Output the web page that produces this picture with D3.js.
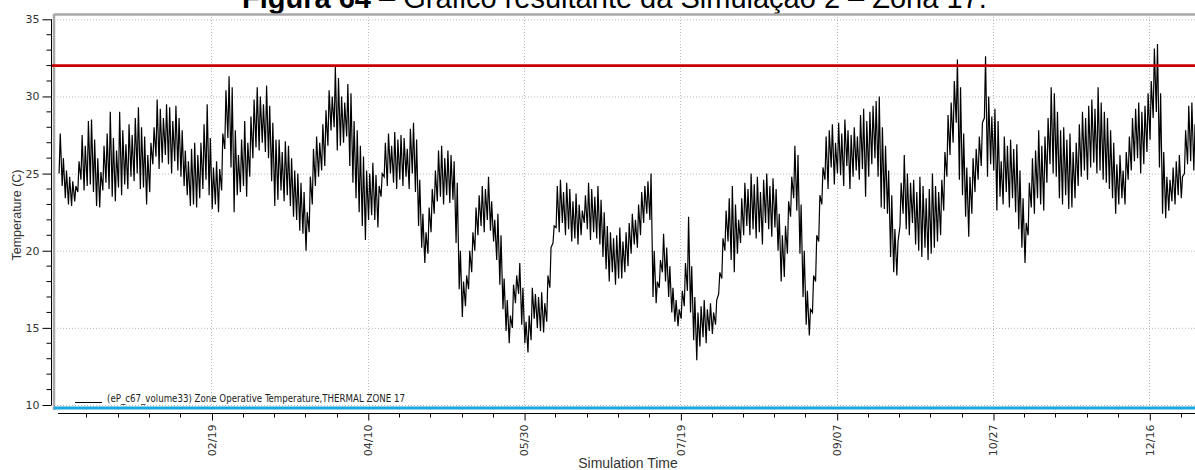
<!DOCTYPE html>
<html>
<head>
<meta charset="utf-8">
<script src="https://cdn.jsdelivr.net/npm/d3@7"></script>
<style>
  body { margin: 0; background: #fff; }
  svg { display: block; font-family: "Liberation Sans", Arial, sans-serif; }
</style>
</head>
<body>
<div id="chart"></div>
<script>
var width  = 1195;
var height = 470;

// daily highs / lows, day 0 = 01/01
var dayHigh = [
  27.6, 26.0, 25.2, 24.8, 24.5, 24.2, 25.8, 27.5, 26.8, 28.4,
  28.5, 27.2, 26.0, 25.1, 26.8, 27.6, 29.0, 27.3, 26.5, 29.0,
  27.8, 26.9, 28.2, 27.5, 28.6, 29.3, 28.0, 27.4, 26.2, 27.0,
  28.0, 29.8, 29.2, 28.6, 29.5, 29.3, 28.4, 29.4, 28.6, 27.8,
  26.5, 25.8, 26.6, 27.0, 26.2, 27.0, 28.2, 29.5, 27.3, 25.4,
  25.8, 25.3, 27.6, 30.4, 31.3, 30.6, 27.8, 26.2, 27.2, 28.4,
  27.0, 28.7, 29.8, 30.6, 30.0, 29.5, 30.7, 29.4, 28.3, 27.2,
  27.2, 26.4, 27.1, 26.8, 26.0, 25.2, 25.0, 24.4, 23.8, 22.5,
  24.8, 26.6, 27.4, 27.0, 28.2, 29.1, 30.4, 30.0, 31.9, 31.2,
  30.0, 29.6, 30.8, 30.2, 28.4, 27.8, 26.8, 26.1, 25.2, 25.0,
  25.7, 24.9, 24.2, 25.0, 27.0, 27.6, 26.8, 27.7, 27.2, 27.5,
  27.3, 26.6, 27.9, 28.3, 27.2, 24.6, 22.4, 21.2, 22.8, 24.0,
  25.2, 26.5, 26.8, 26.0, 26.5, 26.2, 25.8, 24.4, 20.0, 18.0,
  18.4, 20.0, 21.2, 22.8, 23.6, 24.2, 24.0, 24.8, 23.2, 22.0,
  22.4, 21.0, 18.2, 16.8, 15.8, 17.8, 18.4, 19.2, 17.6, 15.4,
  15.8, 17.6, 17.2, 17.0, 17.3, 16.6, 18.4, 20.2, 21.6, 24.2,
  24.6, 23.8, 24.4, 24.0, 23.2, 23.7, 23.0, 22.6, 23.6, 24.4,
  24.0, 23.5, 24.2, 23.3, 22.5, 21.6, 21.2, 20.8, 21.0, 21.5,
  20.6, 21.2, 21.8, 22.4, 22.0, 23.0, 23.8, 24.2, 24.5, 25.0,
  20.0, 18.0, 19.4, 21.1, 20.2, 19.0, 17.6, 16.8, 16.2, 17.4,
  19.2, 22.2, 19.0, 17.0, 16.0, 16.4, 16.8, 16.2, 16.6, 16.0,
  16.8, 18.6, 20.8, 22.6, 23.4, 24.2, 23.0, 22.0, 23.4, 24.4,
  24.0, 25.0, 24.3, 24.8, 23.8, 24.6, 25.0, 24.2, 24.7, 24.0,
  22.4, 21.0, 21.6, 23.2, 24.8, 26.8, 26.2, 23.0, 20.0, 17.4,
  16.2, 18.4, 21.0, 23.6, 25.4, 27.4, 27.8, 28.2, 27.0, 28.3,
  27.6, 28.5, 27.8, 27.5, 28.0, 27.4, 28.8, 29.2, 28.4, 29.0,
  29.4, 29.7, 30.0, 28.0, 26.8, 25.2, 23.6, 21.4, 20.6, 24.4,
  26.2, 25.0, 24.4, 24.6, 23.8, 24.8, 24.2, 23.4, 24.0, 25.0,
  24.2, 23.8, 24.6, 26.4, 28.8, 29.6, 31.0, 32.4, 30.6, 27.6,
  25.4, 24.8, 26.0, 26.6, 27.4, 28.3, 32.6, 30.0, 28.7, 29.2,
  28.4, 25.8, 27.4, 26.8, 27.2, 26.6, 26.9, 25.2, 23.4, 21.8,
  24.4, 26.0, 26.5, 27.8, 26.8, 27.4, 28.6, 30.6, 30.2, 29.0,
  27.8, 28.0, 27.2, 27.6, 26.4, 27.0, 28.2, 29.0, 28.6, 29.4,
  29.8, 29.2, 30.6, 29.6, 29.0, 28.6, 27.8, 27.0, 25.6, 26.2,
  25.2, 26.4, 27.4, 28.6, 29.2, 29.6, 29.0, 29.4, 30.2, 31.0,
  33.1, 33.4, 30.2, 26.4, 24.8, 24.6, 25.4, 25.8, 26.2, 24.8,
  27.8, 29.4, 29.6, 28.2, 29.0
];

var dayLow = [
  25.0, 24.2, 23.4, 23.0, 22.9, 23.2, 23.8, 24.6, 23.9, 24.2,
  24.3, 23.8, 22.9, 22.8, 23.9, 24.4, 24.0, 23.5, 23.2, 24.1,
  23.6, 24.3, 24.0, 24.8, 24.5, 25.0, 24.0, 24.1, 23.0, 23.8,
  25.6, 26.1, 25.3, 25.7, 26.2, 25.6, 25.0, 25.8, 25.2, 24.8,
  24.2, 23.6, 22.9, 23.0, 22.8, 23.4, 24.0, 24.6, 23.6, 22.7,
  23.0, 22.5, 23.9, 26.6, 27.3, 25.4, 22.5, 23.6, 23.8, 24.2,
  23.5, 24.8, 26.0, 26.7, 26.5, 27.0, 26.4, 26.0, 24.5, 22.9,
  23.3, 23.9, 23.2, 23.6, 22.9, 22.2, 22.0, 21.3, 21.1, 20.0,
  21.2, 23.0, 24.2, 24.8, 25.2, 25.5, 26.8, 27.8, 28.0, 26.5,
  26.8, 27.0, 27.4, 25.5, 24.4, 23.4, 22.5, 21.6, 20.7, 22.0,
  22.3, 22.0, 21.5, 23.5, 24.8, 24.2, 25.0, 24.4, 24.0, 24.6,
  24.2, 24.8, 24.0, 25.0, 23.8, 21.6, 20.2, 19.2, 19.8, 21.2,
  22.4, 23.2, 23.5, 23.0, 23.6, 23.1, 23.3, 20.5, 17.5, 15.7,
  16.4, 17.5, 18.6, 20.0, 21.0, 21.6, 21.2, 22.0, 21.3, 20.6,
  19.4, 17.8, 16.2, 14.8, 14.0, 15.0, 16.6, 17.2, 15.2, 14.0,
  13.4, 14.2, 15.6, 15.0, 14.8, 14.7, 15.4, 17.6, 20.5, 21.5,
  21.2, 21.8, 21.0, 21.4, 20.6, 20.8, 20.4, 21.0, 21.8, 21.4,
  20.7, 21.2, 20.8, 20.4, 19.6, 18.8, 18.0, 18.6, 17.8, 18.2,
  18.2, 18.6, 19.0, 19.8, 20.4, 20.2, 21.0, 21.8, 22.4, 22.0,
  17.0, 16.6, 17.6, 18.6, 18.0, 17.0, 16.0, 15.4, 15.1, 15.6,
  16.4, 17.4, 16.0, 14.2, 12.9, 13.8, 14.4, 14.0, 14.8, 14.6,
  15.2, 17.2, 18.2, 20.0, 20.6, 19.4, 18.6, 19.8, 20.5, 21.0,
  21.6, 21.0, 21.4, 20.8, 21.2, 20.4, 21.8, 21.4, 20.9, 21.5,
  20.0, 18.0, 18.3, 19.8, 22.2, 23.4, 22.6, 19.8, 17.0, 15.2,
  14.5, 16.0, 18.0, 20.6, 23.0, 24.6, 24.0, 25.4, 24.3, 25.0,
  24.9, 24.2, 25.5, 24.0, 24.8, 25.2, 24.6, 25.3, 23.5, 24.8,
  25.6, 26.0, 24.8, 22.8, 22.7, 22.4, 19.6, 18.6, 18.4, 21.6,
  22.4, 21.4, 21.0, 21.8, 20.4, 20.0, 19.6, 20.2, 19.4, 19.8,
  20.2, 20.6, 21.0, 22.6, 24.8, 26.2, 27.0, 28.3, 24.6, 23.6,
  22.2, 20.9, 22.4, 23.8, 24.6, 25.5, 28.6, 24.8, 25.6, 25.2,
  22.6, 23.5, 23.0, 23.8, 22.8, 23.4, 22.5, 21.4, 20.2, 19.2,
  21.0, 22.8, 22.4, 23.4, 23.0, 22.6, 24.4, 25.6, 25.0, 24.8,
  23.4, 23.0, 23.6, 22.7, 22.8, 23.4, 24.2, 24.8, 25.2, 24.6,
  25.4, 25.7, 25.0, 25.2, 24.6, 24.4, 24.0, 23.4, 22.4, 23.0,
  23.4, 23.0, 24.6, 25.2, 25.8, 26.0, 25.0, 25.6, 26.4, 27.2,
  28.6, 29.0, 25.4, 22.4, 22.1, 22.6, 23.2, 23.0, 23.6, 23.4,
  25.0, 25.6, 25.8, 25.2, 26.0
];

var yTicks     = [10, 15, 20, 25, 30, 35];
var xTickDates = ["02/19", "04/10", "05/30", "07/19", "09/07", "10/27", "12/16"];
var upperLimit = 32;
var lowerLimit = 9.8;
var legendText = "(eP_c67_volume33) Zone Operative Temperature,THERMAL ZONE 17";

var plot = {left: 54, right: 1202, top: 14, bottom: 413};

var x = d3.scaleTime()
    .domain([new Date(2001, 0, 1), new Date(2002, 0, 1)])
    .range([58.3, 58.3 + 365 * 3.126]);

var y = d3.scaleLinear()
    .domain([10, 35])
    .range([405, 19.3]);

var parseTick = d3.timeParse("%m/%d/%Y");
var majorDates = xTickDates.map(function(s) { return parseTick(s + "/2001"); });
var minorDates = d3.range(-1, 37).map(function(i) { return d3.timeDay.offset(new Date(2001, 0, 10), i * 10); })
    .filter(function(d) { return x(d) >= 58 && x(d) <= 1195; });

var svg = d3.select("#chart")
    .append("svg")
    .attr("width", width)
    .attr("height", height);

// title, cut at the top like the source
var title = svg.append("text")
    .attr("x", 242)
    .attr("y", 8)
    .attr("font-size", 29)
    .attr("fill", "#000");
title.append("tspan").attr("font-weight", "bold").text("Figura 64");
title.append("tspan").text(" – Gráfico resultante da Simulação 2 – Zona 17.");

svg.append("defs").append("clipPath")
    .attr("id", "clip")
    .append("rect")
    .attr("x", plot.left)
    .attr("y", plot.top)
    .attr("width", plot.right - plot.left)
    .attr("height", plot.bottom - plot.top);

// grid
svg.append("g").selectAll("line")
    .data(yTicks)
    .enter().append("line")
    .attr("x1", plot.left).attr("x2", plot.right)
    .attr("y1", function(d) { return y(d) + 0.5; })
    .attr("y2", function(d) { return y(d) + 0.5; })
    .attr("stroke", "#b8b8b8")
    .attr("stroke-dasharray", "1,2");

svg.append("g").selectAll("line")
    .data(majorDates)
    .enter().append("line")
    .attr("x1", function(d) { return Math.round(x(d)) + 0.5; })
    .attr("x2", function(d) { return Math.round(x(d)) + 0.5; })
    .attr("y1", plot.top).attr("y2", 410)
    .attr("stroke", "#b8b8b8")
    .attr("stroke-dasharray", "1,2");

// frame
svg.append("line")
    .attr("x1", plot.left).attr("x2", plot.right)
    .attr("y1", plot.top + 0.5).attr("y2", plot.top + 0.5)
    .attr("stroke", "#a8a8a8").attr("stroke-width", 2.5);
svg.append("line")
    .attr("x1", plot.left).attr("x2", plot.left)
    .attr("y1", plot.top).attr("y2", 410)
    .attr("stroke", "#a8a8a8").attr("stroke-width", 2.5);

// temperature series: one low and one high per day
var points = [];
dayHigh.forEach(function(h, i) {
    points.push({t: d3.timeHour.offset(new Date(2001, 0, 1), i * 24 + 6),  v: dayLow[i]});
    points.push({t: d3.timeHour.offset(new Date(2001, 0, 1), i * 24 + 15), v: h});
});

var valueline = d3.line()
    .x(function(d) { return x(d.t); })
    .y(function(d) { return y(d.v); });

svg.append("path")
    .attr("clip-path", "url(#clip)")
    .attr("d", valueline(points))
    .attr("fill", "none")
    .attr("stroke", "#000")
    .attr("stroke-width", 1.2);

// limit lines
svg.append("line")
    .attr("x1", 51).attr("x2", plot.right)
    .attr("y1", y(upperLimit)).attr("y2", y(upperLimit))
    .attr("stroke", "#c80000").attr("stroke-width", 2.6);

svg.append("line")
    .attr("x1", plot.left).attr("x2", plot.right)
    .attr("y1", y(lowerLimit)).attr("y2", y(lowerLimit))
    .attr("stroke", "#16a9e1").attr("stroke-width", 3);

// y axis
var yAxis = d3.axisLeft(y)
    .tickValues(yTicks)
    .tickSize(9)
    .tickPadding(3)
    .tickFormat(d3.format("d"));

var gy = svg.append("g")
    .attr("transform", "translate(51.5,0)")
    .call(yAxis);
gy.select(".domain").attr("d", "M0," + y(35) + "V" + y(10));

gy.selectAll(".minor")
    .data(d3.range(11, 35).filter(function(d) { return d % 5 !== 0; }))
    .enter().append("line")
    .attr("class", "minor")
    .attr("x1", -5).attr("x2", 0)
    .attr("y1", function(d) { return y(d); })
    .attr("y2", function(d) { return y(d); })
    .attr("stroke", "#000");

gy.selectAll("text").attr("font-size", 11).attr("fill", "#333").attr("font-family", "DejaVu Sans");

svg.append("text")
    .attr("transform", "translate(21,215) rotate(-90)")
    .attr("text-anchor", "middle")
    .attr("font-size", 12.5)
    .attr("fill", "#333")
    .text("Temperature (C)");

// x axis
var xAxis = d3.axisBottom(x)
    .tickValues(majorDates)
    .tickSize(7)
    .tickFormat(d3.timeFormat("%m/%d"));

var gx = svg.append("g")
    .attr("transform", "translate(0,413.5)")
    .call(xAxis);
gx.select(".domain").attr("d", "M58,0H1195");

gx.selectAll(".minor")
    .data(minorDates.filter(function(d) { return xTickDates.indexOf(d3.timeFormat("%m/%d")(d)) < 0; }))
    .enter().append("line")
    .attr("class", "minor")
    .attr("x1", function(d) { return Math.round(x(d)) + 0.5; })
    .attr("x2", function(d) { return Math.round(x(d)) + 0.5; })
    .attr("y1", 0).attr("y2", 4)
    .attr("stroke", "#000");

gx.selectAll(".tick line").attr("transform", "translate(0.5,0)");
gx.selectAll(".tick text")
    .attr("transform", "rotate(-90)")
    .attr("text-anchor", "end")
    .attr("x", -11)
    .attr("y", 0)
    .attr("dy", "0.35em")
    .attr("font-size", 11)
    .attr("fill", "#333")
    .attr("font-family", "DejaVu Sans");

svg.append("text")
    .attr("x", 628)
    .attr("y", 468)
    .attr("text-anchor", "middle")
    .attr("font-size", 14)
    .attr("font-family", "Liberation Sans Narrow, Liberation Sans, sans-serif")
    .attr("fill", "#333")
    .text("Simulation Time");

// legend
svg.append("line")
    .attr("x1", 75).attr("x2", 102)
    .attr("y1", 402.5).attr("y2", 402.5)
    .attr("stroke", "#000");

svg.append("text")
    .attr("x", 107)
    .attr("y", 402)
    .attr("font-size", 10)
    .attr("fill", "#222")
    .attr("font-family", "DejaVu Sans Condensed, DejaVu Sans")
    .attr("textLength", 298)
    .attr("lengthAdjust", "spacingAndGlyphs")
    .text(legendText);
</script>
</body>
</html>
